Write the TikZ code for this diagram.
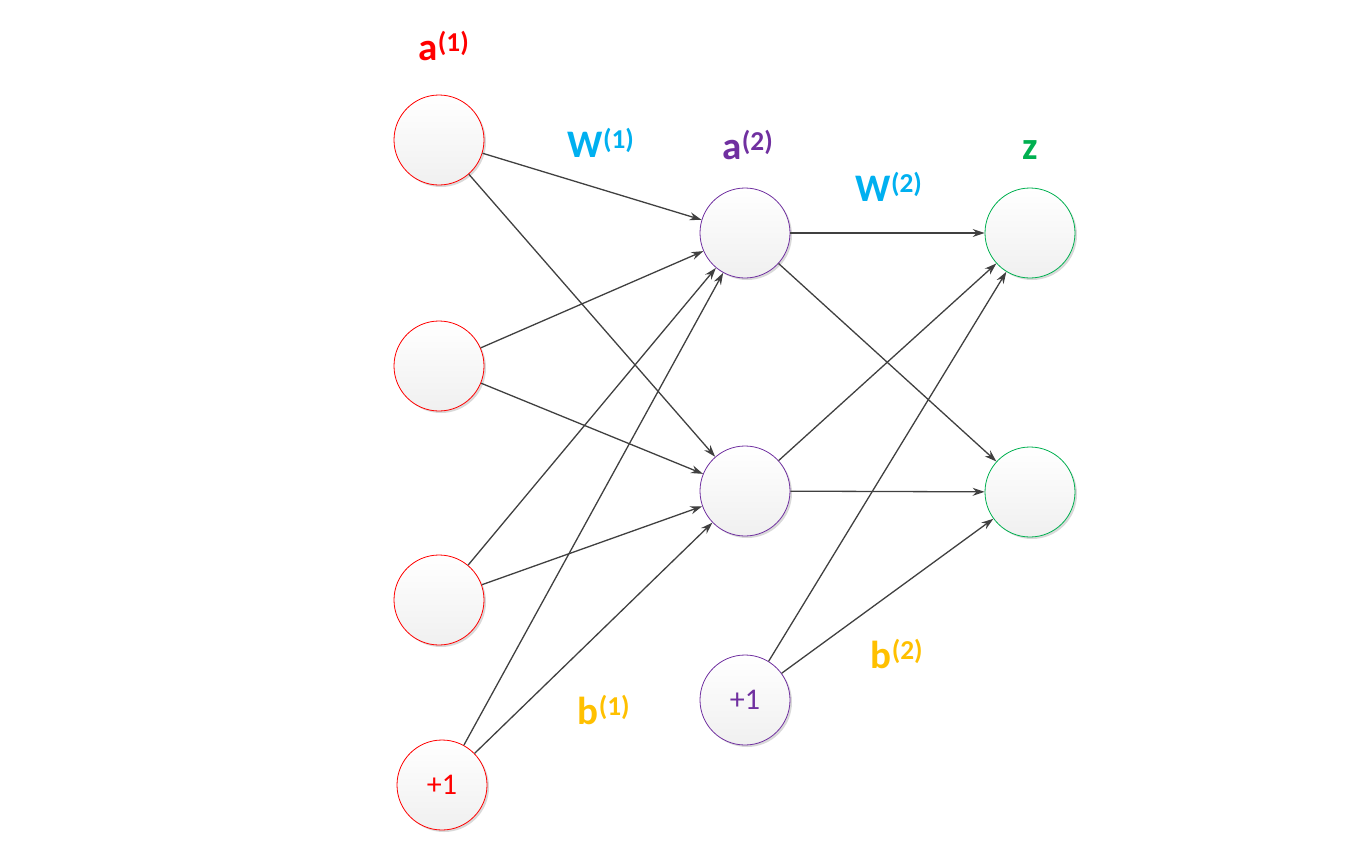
\documentclass[tikz,border=0pt]{standalone}
\usepackage{tikz}
\usepackage{xcolor}
\usepackage{fontspec}
\setmainfont{Carlito}
\usetikzlibrary{arrows.meta,shadows}

\begin{document}
\begin{tikzpicture}[x=1pt,y=-1pt,
  neuron/.style={circle,minimum size=90pt,inner sep=0pt,line width=0.8pt,
    top color=white,bottom color=black!6,
    drop shadow={shadow xshift=2pt,shadow yshift=-2pt,opacity=0.15,fill=black}},
  wire/.style={draw=black!75,line width=1.3pt,-{Stealth[length=12pt,width=8pt]}},
  lab/.style={font=\fontsize{39}{40}\selectfont\bfseries}]
\definecolor{inred}{HTML}{FF0000}
\definecolor{hidpurple}{HTML}{7030A0}
\definecolor{outgreen}{HTML}{00B050}
\definecolor{wcyan}{HTML}{00B0F0}
\definecolor{bgold}{HTML}{FFC000}
\useasboundingbox (0,0) rectangle (1347,863);
% input layer
\foreach \nm/\y in {in1/140,in2/366,in3/600}
  {\node [neuron,draw=inred] (\nm) at (439,\y) {};}
\node [neuron,draw=inred,text=inred,font=\fontsize{30}{30}\selectfont] (bin) at (442,785) {+1};
% hidden layer
\foreach \nm/\y in {hid1/233,hid2/491}
  {\node [neuron,draw=hidpurple] (\nm) at (745,\y) {};}
\node [neuron,draw=hidpurple,text=hidpurple,font=\fontsize{30}{30}\selectfont] (bhid) at (745,700) {+1};
% output layer
\foreach \nm/\y in {out1/233,out2/492}
  {\node [neuron,draw=outgreen] (\nm) at (1030,\y) {};}
% connections
\foreach \src in {in1,in2,in3,bin}
  {\foreach \dst in {hid1,hid2}
    {\draw [wire] (\src) -- (\dst);}}
\foreach \src in {hid1,hid2,bhid}
  {\foreach \dst in {out1,out2}
    {\draw [wire] (\src) -- (\dst);}}
% labels
\node [lab,text=inred] (la1) at (444,46) {a\textsuperscript{(1)}};
\node [lab,text=wcyan] (lw1) at (601,143) {W\textsuperscript{(1)}};
\node [lab,text=hidpurple] (la2) at (748,145) {a\textsuperscript{(2)}};
\node [lab,text=wcyan] (lw2) at (889,187) {W\textsuperscript{(2)}};
\node [lab,text=outgreen] (lz) at (1030,150) {z};
\node [lab,text=bgold] (lb1) at (604,710) {b\textsuperscript{(1)}};
\node [lab,text=bgold] (lb2) at (897,654) {b\textsuperscript{(2)}};
\end{tikzpicture}
\end{document}
